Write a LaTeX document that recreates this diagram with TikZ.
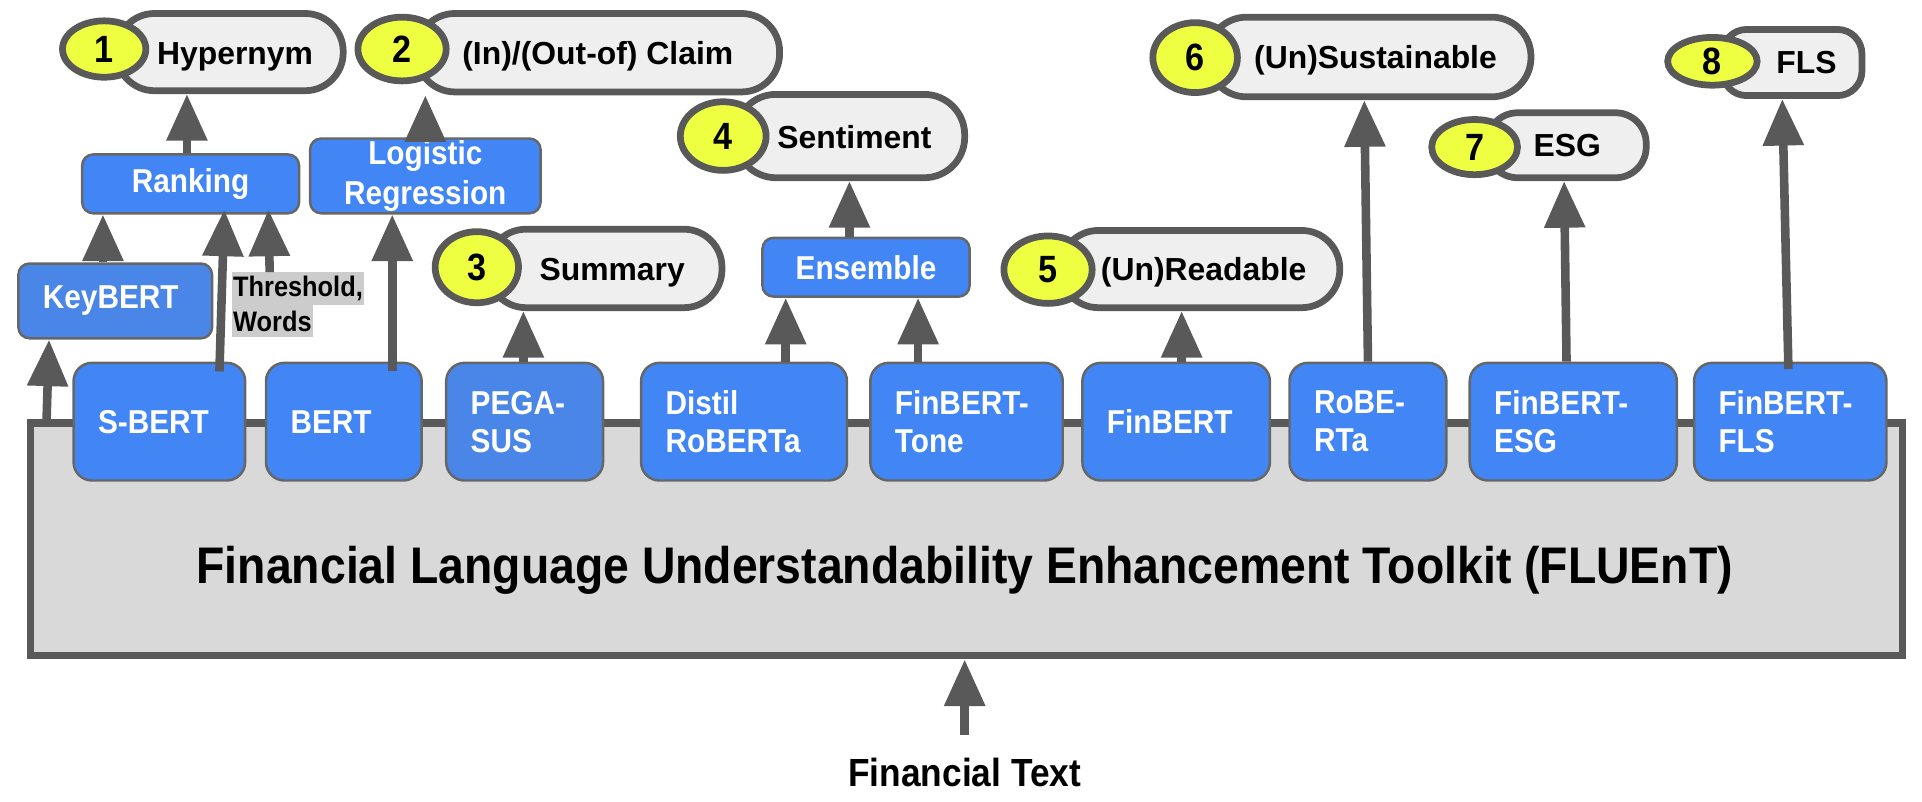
\documentclass[tikz,border=0pt]{standalone}
\usepackage{fontspec}
\setmainfont{Liberation Sans}[FakeStretch=0.9]
\newfontfamily\pillfont{Liberation Sans}
\usetikzlibrary{arrows.meta,fit,shapes.geometric}
\definecolor{dg}{HTML}{595959}
\definecolor{bl}{HTML}{4285F4}
\definecolor{blb}{HTML}{4A86E8}
\definecolor{bd}{HTML}{666666}
\definecolor{yl}{HTML}{EEFF41}
\definecolor{pg}{HTML}{EFEFEF}
\definecolor{lg}{HTML}{D9D9D9}
\definecolor{tg}{HTML}{CCCCCC}
\tikzset{
  model/.style={draw=bd, line width=2pt, fill=bl, rounded corners=15pt, text=white,
    font=\fontsize{27}{31}\selectfont\bfseries, align=left, inner xsep=20pt, inner ysep=0pt,
    minimum height=96pt},
  small/.style={draw=bd, line width=2pt, fill=bl, rounded corners=9pt, text=white,
    font=\fontsize{27}{32}\selectfont\bfseries, inner sep=0pt},
  pill/.style={draw=dg, line width=5.5pt, fill=pg, inner sep=0pt},
  numc/.style={ellipse, draw=dg, line width=5.5pt, fill=yl, inner sep=0pt,
    font=\fontsize{31}{31}\selectfont\bfseries},
  plabel/.style={anchor=base west, inner sep=0pt, font=\pillfont\fontsize{26}{30}\selectfont\bfseries},
  arr/.style={draw=dg, line width=7pt, -{Triangle[width=32pt,length=38pt]}},
  thr/.style={fill=tg, inner xsep=1pt, inner ysep=0pt, anchor=north west, minimum height=26.5pt,
    font=\fontsize{23}{26}\selectfont\bfseries},
}
\begin{document}
\begin{tikzpicture}[x=1pt,y=-1pt]
\useasboundingbox (0,0) rectangle (1568,654);
% main toolkit box
\node[draw=dg, line width=6pt, fill=lg, inner sep=0pt, fit={(25,345)(1552,535)}] (fluent) {};
\node[font=\fontsize{42}{50}\selectfont\bfseries, inner sep=0pt] (title) at (787,465)
  {Financial Language Understandability Enhancement Toolkit (FLUEnT)};
\node[font=\fontsize{32}{34}\selectfont\bfseries, inner sep=0pt, anchor=base] (ft) at (787,642) {Financial Text};
\draw[arr, shorten <=19pt] (ft.north) -- (ft.north |- fluent.south);

% model boxes
\node[model, minimum width=140pt, text width=100pt] (sbert) at (130,344) {S-BERT};
\node[model, minimum width=127pt, text width=87pt] (bert) at (280.5,344) {BERT};
\node[model, fill=blb, minimum width=128pt, text width=88pt] (peg) at (428,344) {PEGA-\\SUS};
\node[model, minimum width=168pt, text width=128pt] (distil) at (607,344) {Distil\\RoBERTa};
\node[model, minimum width=157pt, text width=117pt] (tone) at (788.5,344) {FinBERT-\\Tone};
\node[model, minimum width=153pt, text width=113pt] (finbert) at (959.5,344) {FinBERT};
\node[model, minimum width=128pt, text width=88pt] (roberta) at (1116,344) {RoBE-\\RTa};
\node[model, minimum width=169pt, text width=129pt] (esg) at (1283.5,344) {FinBERT-\\ESG};
\node[model, minimum width=157pt, text width=117pt] (fls) at (1460.5,344) {FinBERT-\\FLS};

% intermediate boxes
\node[small, fill=blb, minimum width=158pt, minimum height=61pt, text width=118pt, align=left, inner xsep=20pt] (keybert) at (94,245.5) {KeyBERT};
\node[small, minimum width=177pt, minimum height=48pt, align=center] (ranking) at (155.5,150) {Ranking};
\node[small, minimum width=188pt, minimum height=61pt, align=center] (logreg) at (347,143.5) {Logistic\\Regression};
\node[small, minimum width=169pt, minimum height=48pt, align=center] (ensemble) at (706.5,218) {Ensemble};
\node[thr] (th1) at (189,222) {Threshold,};
\node[thr] (th2) at (189,248.5) {Words};

% output pills
\node[pill, rounded corners=31pt, fit={(95,11)(280,74)}] (p1) {};
\node[pill, rounded corners=31pt, fit={(340,11)(636,75)}] (p2) {};
\node[pill, rounded corners=31pt, fit={(398,187)(589,251)}] (p3) {};
\node[pill, rounded corners=33pt, fit={(600,77)(787,145)}] (p4) {};
\node[pill, rounded corners=31pt, fit={(865,188)(1093,251)}] (p5) {};
\node[pill, rounded corners=32pt, fit={(985,14)(1249,79)}] (p6) {};
\node[pill, rounded corners=25pt, fit={(1213,92)(1343,145)}] (p7) {};
\node[pill, rounded corners=20pt, fit={(1405,24)(1519,78)}] (p8) {};
\node[numc, minimum width=68pt, minimum height=46pt] (c1) at (85,40) {1};
\node[numc, minimum width=72pt, minimum height=52pt] (c2) at (328,40) {2};
\node[numc, minimum width=68pt, minimum height=58pt] (c3) at (389,218) {3};
\node[numc, minimum width=70pt, minimum height=56pt] (c4) at (590,111) {4};
\node[numc, minimum width=72pt, minimum height=55pt] (c5) at (855,220) {5};
\node[numc, minimum width=69pt, minimum height=57pt] (c6) at (975,47) {6};
\node[numc, minimum width=70pt, minimum height=45pt] (c7) at (1203,120) {7};
\node[numc, minimum width=73pt, minimum height=39pt] (c8) at (1397,50) {8};
\node[plabel] (l1) at (128,53) {Hypernym};
\node[plabel] (l2) at (377,53) {(In)/(Out-of) Claim};
\node[plabel] (l3) at (440,229) {Summary};
\node[plabel] (l4) at (634,121) {Sentiment};
\node[plabel] (l5) at (898,229) {(Un)Readable};
\node[plabel] (l6) at (1023,56) {(Un)Sustainable};
\node[plabel] (l7) at (1251,128) {ESG};
\node[plabel] (l8) at (1449,60) {FLS};

% connectors
\draw[arr] ([xshift=16pt]fluent.north west) -- ([xshift=26pt]keybert.south west);
\draw[arr] ([xshift=70pt]keybert.north west) -- ([xshift=18pt]ranking.south west);
\draw[arr] ([xshift=120pt,yshift=-8pt]sbert.north west) -- ([xshift=117pt,yshift=4pt]ranking.south west);
\draw[arr] ([xshift=31pt]th1.north west) -- ([xshift=153pt,yshift=4pt]ranking.south west);
\draw[arr] ([xshift=-3pt]ranking.north) -- ([xshift=-3pt]ranking.north |- p1.south);
\draw[arr] ([xshift=104pt,yshift=-8pt]bert.north west) -- ([xshift=68pt]logreg.south west);
\draw[arr] (logreg.north) -- (logreg.north |- p2.south);
\draw[arr] ([xshift=-1pt]peg.north) -- ([xshift=-1pt]peg.north |- p3.south);
\draw[arr] ([xshift=119pt]distil.north west) -- ([xshift=20pt]ensemble.south west);
\draw[arr] ([xshift=40pt]tone.north west) -- ([xshift=128pt]ensemble.south west);
\draw[arr] ([xshift=72pt]ensemble.north west) -- ([xshift=72pt]ensemble.north west |- p4.south);
\draw[arr] ([xshift=4.5pt]finbert.north) -- ([xshift=4.5pt]finbert.north |- p5.south);
\draw[arr] (roberta.north) -- ([xshift=-3pt]roberta.north |- p6.south);
\draw[arr] ([xshift=-5.5pt]esg.north) -- ([xshift=-7.5pt]esg.north |- p7.south);
\draw[arr] ([xshift=-1.5pt,yshift=-6pt]fls.north) -- ([xshift=-6.5pt]fls.north |- p8.south);
\end{tikzpicture}
\end{document}
